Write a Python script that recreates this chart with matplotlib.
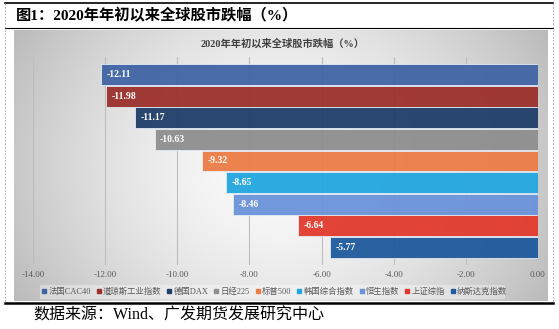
import numpy as np
import matplotlib
matplotlib.use("Agg")
import matplotlib.pyplot as plt
from matplotlib.patches import Rectangle
from matplotlib.lines import Line2D

# 数据
indices = ["法国CAC40", "道琼斯工业指数", "德国DAX", "日经225", "标普500",
           "韩国综合指数", "恒生指数", "上证综指", "纳斯达克指数"]
changes = [-12.11, -11.98, -11.17, -10.63, -9.32, -8.65, -8.46, -6.64, -5.77]
colors = ["#4065A5", "#9C302C", "#1F3E68", "#8E8E8E", "#EC7D45",
          "#22A6DF", "#6A93D9", "#E23A2D", "#1F5A9D"]
xticks = [-14, -12, -10, -8, -6, -4, -2, 0]

SERIF_CJK = ["Liberation Serif", "Noto Sans CJK SC"]
plt.rcParams["font.family"] = SERIF_CJK

W, H = 559, 329
fig = plt.figure(figsize=(W / 100, H / 100), dpi=100)
fig.patch.set_facecolor("white")

# 背景渐变面板
bg = fig.add_axes([14 / W, 1 - 301 / H, (548 - 14) / W, (301 - 30) / H])
gx, gy = np.meshgrid(np.linspace(-1, 1, 300), np.linspace(-1, 1, 150))
r = np.sqrt(gx ** 2 * 1.0 + gy ** 2 * 0.35)
shade = 0.985 - 0.20 * np.clip(r, 0, 1.2) ** 1.6
bg.imshow(np.dstack([shade] * 3), aspect="auto", extent=[0, 1, 0, 1])
bg.set_axis_off()

# 图例背景
fig.patches.append(Rectangle((40 / W, 1 - 299 / H), (505 - 40) / W, 14 / H,
                             transform=fig.transFigure, facecolor="white",
                             alpha=0.35, edgecolor="none", zorder=1))

ax = fig.add_axes([33 / W, 1 - 265 / H, (538 - 33) / W, (265 - 57) / H])
ax.set_facecolor("none")
pos = np.arange(len(indices))
bars = ax.barh(pos, changes, height=0.97, color=colors, alpha=0.95,
               edgecolor="#E6EEF8", linewidth=0.6, zorder=2)
for b, v in zip(bars, changes):
    ax.text(v + 0.15, b.get_y() + b.get_height() / 2, f"{v:.2f}",
            color="white", fontsize=7, fontweight="bold", va="center",
            ha="left", zorder=3)

ax.set_xlim(-14, 0)
ax.set_ylim(8.82, -0.82)
ax.set_xticks(xticks)
ax.set_xticklabels([f"{t:.2f}" for t in xticks], fontsize=6.5, color="#595959")
ax.set_yticks([])
ax.tick_params(axis="x", length=0, pad=4)
ax.grid(axis="x", color="#BDBDBD", linewidth=0.8, zorder=1)
for s in ax.spines.values():
    s.set_visible(False)

# 图例
handles = [Line2D([], [], marker="s", linestyle="none", markersize=3.2,
                  markerfacecolor=c, markeredgecolor=c) for c in colors]
fig.legend(handles, indices, loc="center", bbox_to_anchor=(274 / W, 1 - 292 / H),
           ncol=9, frameon=False, fontsize=6, handletextpad=0.1,
           columnspacing=0.55, labelcolor="#595959", handlelength=0.8)

# 图内标题
fig.text(283 / W, 1 - 44 / H, "2020年年初以来全球股市跌幅（%）", ha="center",
         va="center", fontsize=7.4, color="#404040", fontweight="bold")

# 外框线
fig.add_artist(Line2D([5 / W, 553 / W], [1 - 3 / H, 1 - 3 / H], color="black", lw=1.2))
fig.add_artist(Line2D([5 / W, 553 / W], [1 - 28 / H, 1 - 28 / H], color="black", lw=0.8))
fig.add_artist(Line2D([5 / W, 553 / W], [1 - 303 / H, 1 - 303 / H], color="black", lw=1.8))
for xx in (5 / W, 553 / W):
    fig.add_artist(Line2D([xx, xx], [1 - 3 / H, 1 - 303 / H], color="#A0A0A0",
                          lw=0.6, linestyle=(0, (2, 2))))

fig.text(16 / W, 1 - 16 / H, "图1：2020年年初以来全球股市跌幅（%）", ha="left",
         va="center", fontsize=11, fontweight="bold", color="black")
fig.text(33 / W, 1 - 316 / H, "数据来源：Wind、广发期货发展研究中心", ha="left",
         va="center", fontsize=11.5, color="black")

fig.savefig("out.png", dpi=100)
